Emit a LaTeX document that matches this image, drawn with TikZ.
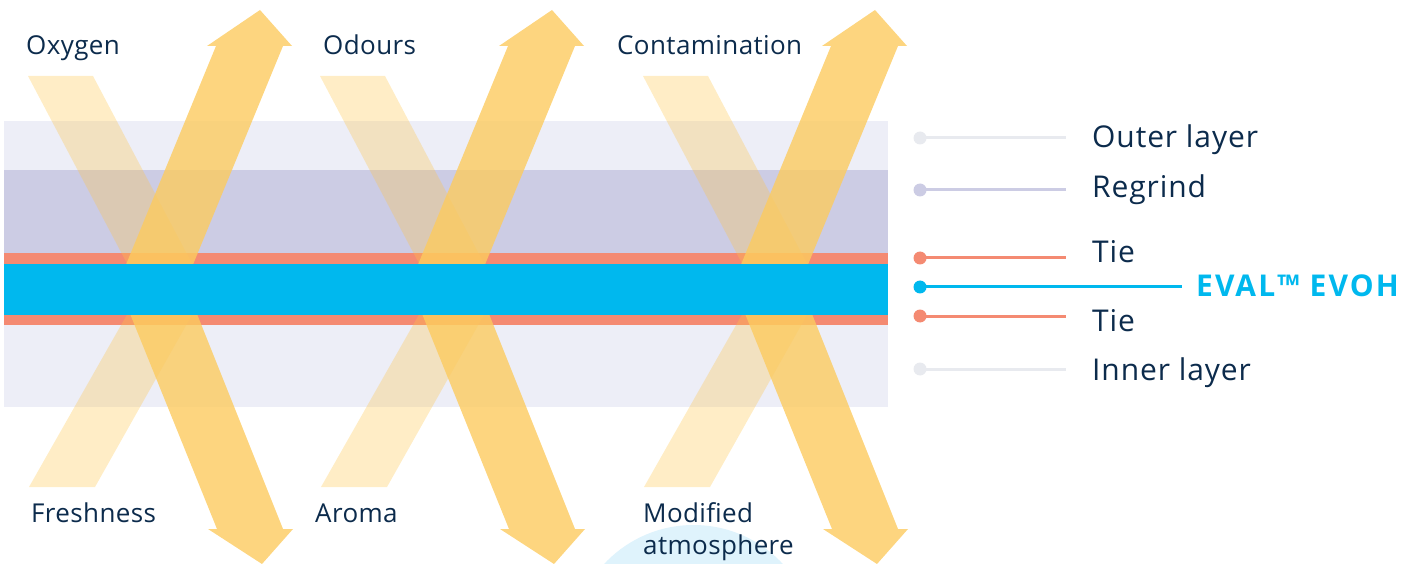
\documentclass[tikz,border=0pt]{standalone}
\usepackage{fontspec}
\setmainfont{Open Sans}
\newfontfamily\lblfont[LetterSpace=1.5]{Open Sans}
\newfontfamily\legfont[LetterSpace=3]{Open Sans}
\newfontfamily\evohfont[LetterSpace=7]{Open Sans}
\definecolor{navy}{HTML}{0C2B4C}
\definecolor{layerlight}{HTML}{EDEEF7}
\definecolor{regrind}{HTML}{CCCCE4}
\definecolor{tie}{HTML}{F48A72}
\definecolor{evoh}{HTML}{00B8EE}
\definecolor{boldarrow}{HTML}{FCCB5F}
\definecolor{faintarrow}{HTML}{FFC547}
\definecolor{leggray}{HTML}{E8EAEF}
\definecolor{bubble}{HTML}{DFF3FC}
\begin{document}
\begin{tikzpicture}[x=1pt,y=-1pt,
  lbl/.style={font=\lblfont\fontsize{26}{31.5}\selectfont, text=navy, inner sep=0pt, anchor=base west},
  leglbl/.style={font=\legfont\fontsize{30}{36}\selectfont, text=navy, inner sep=0pt, anchor=base west},
  evohlbl/.style={font=\evohfont\bfseries\fontsize{30}{36}\selectfont, text=evoh, inner sep=0pt, anchor=base west},
  legdot/.style={circle, inner sep=0pt, minimum size=13pt},
  legline/.style={line width=3pt},
  boldshape/.style={fill=boldarrow, fill opacity=0.8},
  faintshape/.style={fill=faintarrow, fill opacity=0.31}]
\useasboundingbox (0,0) rectangle (1417,564);
% bubble
\begin{scope}
  \clip (0,0) rectangle (1417,564);
  \fill[bubble] (693.5,647) circle[radius=122pt];
\end{scope}
% layers
\fill[layerlight] (4,121) rectangle (888,170);
\fill[regrind] (4,170) rectangle (888,253.5);
\fill[tie] (4,253.5) rectangle (888,264);
\fill[tie] (4,315) rectangle (888,325);
\fill[layerlight] (4,325) rectangle (888,406.5);
% arrows
\foreach \dx in {0,292,615}{
  \begin{scope}[xshift=\dx pt]
    \fill[faintshape] (28,76) -- (93,76) -- (206,290) -- (95,487) -- (29,487) -- (141,290) -- cycle;
    \fill[boldshape] (260,10) -- (292,46) -- (283,46) -- (185,284) -- (283,529) -- (293,529)
      -- (262,564) -- (208,529) -- (217,529) -- (118,284) -- (216,46) -- (207,46) -- cycle;
  \end{scope}
}
% EVOH layer on top
\fill[evoh] (4,264) rectangle (888,315);
% labels
\node[lbl] (oxygen) at (26,55) {Oxygen};
\node[lbl] (odours) at (323,55) {Odours};
\node[lbl] (contam) at (617,55) {Contamination};
\node[lbl] (fresh) at (31,522.7) {Freshness};
\node[lbl] (aroma) at (315,522.7) {Aroma};
\node[lbl] (modif) at (643,522.7) {\vtop{\baselineskip=31.5pt\hbox{Modified}\hbox{atmosphere}}};
% legend
\node[legdot, fill=leggray] (d1) at (920,138) {};
\node[legdot, fill=regrind] (d2) at (920,190) {};
\node[legdot, fill=tie] (d3) at (920,258) {};
\node[legdot, fill=evoh] (d4) at (920,287) {};
\node[legdot, fill=tie] (d5) at (920,316) {};
\node[legdot, fill=leggray] (d6) at (920,369) {};
\coordinate (e1) at (1066,138);
\coordinate (e2) at (1066,190);
\coordinate (e3) at (1066,258);
\coordinate (e4) at (1182,287);
\coordinate (e5) at (1066,316);
\coordinate (e6) at (1066,369);
\draw[legline, leggray] (d1.center) -- (e1);
\draw[legline, regrind] (d2.center) -- (e2);
\draw[legline, tie] (d3.center) -- (e3);
\draw[legline, evoh] (d4.center) -- (e4);
\draw[legline, tie] (d5.center) -- (e5);
\draw[legline, leggray] (d6.center) -- (e6);
\node[leglbl] (t1) at (1092,147.3) {Outer layer};
\node[leglbl] (t2) at (1092,197.3) {Regrind};
\node[leglbl] (t3) at (1092,262.7) {Tie};
\node[evohlbl] (t4) at (1196,296.7) {EVAL™ EVOH};
\node[leglbl] (t5) at (1092,331.7) {Tie};
\node[leglbl] (t6) at (1092,380) {Inner layer};
\end{tikzpicture}
\end{document}
